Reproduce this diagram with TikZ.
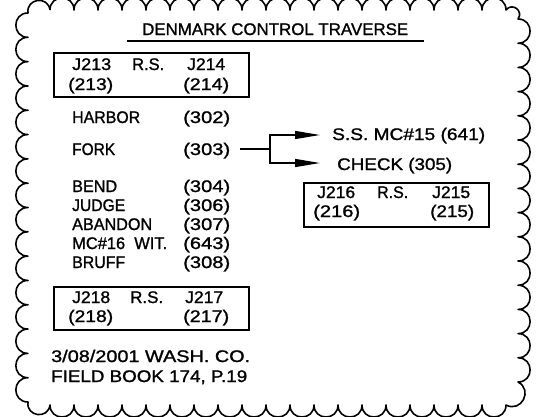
\documentclass[tikz,border=0pt]{standalone}
\usepackage{fontspec}
\setmainfont{Liberation Sans}
\newfontface\cadfont[FakeBold=1.2]{Liberation Sans}
\usepackage{graphicx}
\usetikzlibrary{calc,arrows.meta}
\newcommand{\fw}[2]{\resizebox{#1pt}{\height}{#2}}
\begin{document}
\begin{tikzpicture}[x=1pt,y=-1pt,
  txt/.style={inner sep=0pt, anchor=base west, font=\cadfont\fontsize{16.8}{20}\selectfont},
  boxnode/.style={draw, line width=1.6pt, inner sep=0pt, anchor=north west},
  cloudline/.style={line width=1.6pt, line join=round},
  conn/.style={line width=1.4pt},
  tip/.style={-{Triangle[length=25pt,width=8pt]}}]
\useasboundingbox (0,0) rectangle (553,416);
\clip (0,0) rectangle (553,416);
% cusps of the cloud border
\foreach \k in {0,...,19} {\coordinate (c\k) at ({50+24*\k},10);}
\foreach \k in {0,...,15} {\pgfmathtruncatemacro\n{20+\k}\coordinate (c\n) at (518,{19+24.2*\k});}
\foreach \k in {0,...,19} {\pgfmathtruncatemacro\n{36+\k}\coordinate (c\n) at ({506-24*\k},405);}
\foreach \k in {0,...,16} {\pgfmathtruncatemacro\n{56+\k}\coordinate (c\n) at (28,{402-24.3125*\k});}
\draw[cloudline] (c0)
  \foreach \i [remember=\i as \j (initially 0)] in {1,...,72} {
    .. controls ($(c\j)!0.6667!90:(c\i)$) and ($(c\i)!0.6667!-90:(c\j)$) .. (c\i) }
  .. controls ($(c72)!0.6667!90:(c0)$) and ($(c0)!0.6667!-90:(c72)$) .. (c0);
% title
\node[txt] (title) at (142,35) {\fw{266}{DENMARK CONTROL TRAVERSE}};
\coordinate (ulA) at (127,41);
\coordinate (ulB) at (424,41);
\draw[line width=1.6pt] (ulA) -- (ulB);
% box 1
\node[boxnode, minimum width=195pt, minimum height=44pt] (box1) at (53,52) {};
\node[txt] (j213) at (72,70) {\fw{39}{J213}};
\node[txt] (rs1) at (132,70) {\fw{32}{R.S.}};
\node[txt] (j214) at (187,70) {\fw{38}{J214}};
\node[txt] (p213) at (68,90) {\fw{45}{(213)}};
\node[txt] (p214) at (183,90) {\fw{46}{(214)}};
% list
\node[txt] (harbor) at (72,123) {\fw{68}{HARBOR}};
\node[txt] (n302) at (183,123) {\fw{47}{(302)}};
\node[txt] (fork) at (72,155) {\fw{43}{FORK}};
\node[txt] (n303) at (183,155) {\fw{47}{(303)}};
\node[txt] (bend) at (72,192) {\fw{45}{BEND}};
\node[txt] (n304) at (183,192) {\fw{47}{(304)}};
\node[txt] (judge) at (72,211) {\fw{53}{JUDGE}};
\node[txt] (n306) at (183,211) {\fw{47}{(306)}};
\node[txt] (abandon) at (72,230) {\fw{80}{ABANDON}};
\node[txt] (n307) at (183,230) {\fw{47}{(307)}};
\node[txt] (mc16) at (72,249) {\fw{95}{MC\#16\ \ WIT.}};
\node[txt] (n643) at (183,249) {\fw{47}{(643)}};
\node[txt] (bruff) at (72,268) {\fw{53}{BRUFF}};
\node[txt] (n308) at (183,268) {\fw{47}{(308)}};
% box 3
\node[boxnode, minimum width=195pt, minimum height=43pt] (box3) at (53,286) {};
\node[txt] (j218) at (72,303) {\fw{38}{J218}};
\node[txt] (rs3) at (130,303) {\fw{33}{R.S.}};
\node[txt] (j217) at (185,303) {\fw{38}{J217}};
\node[txt] (p218) at (68,322) {\fw{45}{(218)}};
\node[txt] (p217) at (183,322) {\fw{46}{(217)}};
% right side
\node[txt] (ss) at (332,140) {\fw{153}{S.S. MC\#15 (641)}};
\node[txt] (check) at (337,170) {\fw{115}{CHECK (305)}};
\node[boxnode, minimum width=185pt, minimum height=44pt] (box2) at (303,182) {};
\node[txt] (j216) at (317,198) {\fw{38}{J216}};
\node[txt] (rs2) at (377,198) {\fw{31}{R.S.}};
\node[txt] (j215) at (432,198) {\fw{38}{J215}};
\node[txt] (p216) at (313,217) {\fw{47}{(216)}};
\node[txt] (p215) at (430,217) {\fw{44}{(215)}};
% connector
\coordinate (fs) at (240,149);
\coordinate (fk) at (270,149);
\coordinate (a1) at (320,135);
\coordinate (a2) at (320,163);
\draw[conn] (fs) -- (fk);
\draw[conn,tip] (fk) |- (a1);
\draw[conn,tip] (fk) |- (a2);
% footer
\node[txt] (date) at (51,362) {\fw{199}{3/08/2001 WASH. CO.}};
\node[txt] (book) at (51,382) {\fw{196}{FIELD BOOK 174, P.19}};
\end{tikzpicture}
\end{document}
